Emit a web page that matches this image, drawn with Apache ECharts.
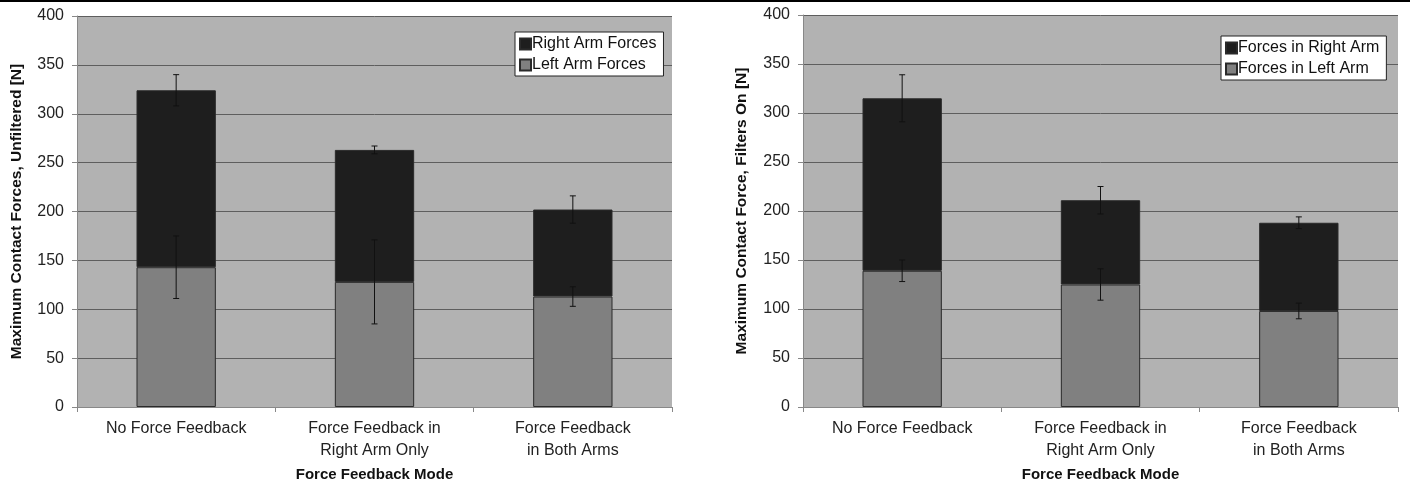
<!DOCTYPE html>
<html>
<head>
<meta charset="utf-8">
<script src="https://cdn.jsdelivr.net/npm/echarts@6/dist/echarts.min.js"></script>
<style>
  html, body { margin: 0; padding: 0; background: #ffffff; }
  #chart { width: 1414px; height: 484px; }
</style>
</head>
<body>
<div id="chart"></div>
<script>
// categories
const categories = ['No Force Feedback', 'Force Feedback in\nRight Arm Only', 'Force Feedback\nin Both Arms']

// left chart: unfiltered
const leftArmUnfiltered = [143, 128, 113]
const rightArmUnfiltered = [181, 135, 89]
const leftErrUnfiltered = [32, 43, 10]
const rightErrUnfiltered = [16, 4, 14]

// right chart: filters on
const leftArmFiltered = [139, 125, 98]
const rightArmFiltered = [176, 86, 90]
const leftErrFiltered = [11, 16, 8]
const rightErrFiltered = [24, 14, 6]

const FONT = 'Liberation Sans, Arial, sans-serif'
const DARK = '#1e1e1e'
const MID = '#808080'

const myChart = echarts.init(document.getElementById('chart'))

// 误差线
const errRender = (params, api) => {
  const x = api.value(0)
  const y = api.value(1)
  const e = api.value(2)
  const hi = api.coord([x, y + e])
  const lo = api.coord([x, y - e])
  const cap = 3
  const style = { stroke: '#111', lineWidth: 1 }
  return {
    type: 'group',
    children: [
      { type: 'line', shape: { x1: hi[0], y1: hi[1], x2: lo[0], y2: lo[1] }, style },
      { type: 'line', shape: { x1: hi[0] - cap, y1: hi[1], x2: hi[0] + cap, y2: hi[1] }, style },
      { type: 'line', shape: { x1: lo[0] - cap, y1: lo[1], x2: lo[0] + cap, y2: lo[1] }, style }
    ]
  }
}

const errData = (left, right, leftErr, rightErr) => {
  const out = []
  for (let i = 0; i < left.length; i++) {
    out.push([i, left[i], leftErr[i]])
    out.push([i, left[i] + right[i], rightErr[i]])
  }
  return out
}

const xAxisOf = (idx) => ({
  type: 'category',
  gridIndex: idx,
  data: categories,
  name: 'Force Feedback Mode',
  nameLocation: 'middle',
  nameGap: 59,
  nameTextStyle: { fontFamily: FONT, fontWeight: 'bold', fontSize: 15, color: '#111' },
  axisLine: { lineStyle: { color: '#888', width: 1 } },
  axisTick: { show: true, length: 5, lineStyle: { color: '#888' } },
  axisLabel: { fontFamily: FONT, fontSize: 16, color: '#222', margin: 11, lineHeight: 22 }
})

const yAxisOf = (idx, name, gap) => ({
  type: 'value',
  gridIndex: idx,
  min: 0,
  max: 400,
  interval: 50,
  name,
  nameLocation: 'middle',
  nameGap: gap,
  nameTextStyle: { fontFamily: FONT, fontWeight: 'bold', fontSize: 15.5, color: '#111' },
  axisLine: { show: true, lineStyle: { color: '#888', width: 1 } },
  axisTick: { show: true, length: 5, lineStyle: { color: '#888' } },
  axisLabel: { fontFamily: FONT, fontSize: 16, color: '#222', margin: 13 },
  splitLine: { show: true, lineStyle: { color: '#5e5e5e', width: 1 } }
})

const barOf = (name, data, idx, color) => ({
  name,
  type: 'bar',
  stack: 'total' + idx,
  xAxisIndex: idx,
  yAxisIndex: idx,
  data,
  barWidth: '40%',
  itemStyle: { color, borderColor: '#2a2a2a', borderWidth: 1 },
  z: 2
})

const legendOf = (left, top, names) => ({
  left,
  top,
  orient: 'vertical',
  data: names,
  backgroundColor: '#ffffff',
  borderColor: '#222',
  borderWidth: 1,
  padding: [4, 7, 3, 4],
  itemGap: 5,
  itemWidth: 11,
  itemHeight: 11,
  icon: 'rect',
  selectedMode: false,
  textStyle: { fontFamily: FONT, fontSize: 16, color: '#111', padding: [0, 0, 0, -4] }
})

const options = {
  animation: false,
  graphic: [
    { type: 'rect', left: 0, top: 0, shape: { width: 1410, height: 2 }, style: { fill: '#000' } }
  ],
  grid: [
    { left: 77, right: 742, top: 16, bottom: 77, show: true, backgroundColor: '#b2b2b2', borderWidth: 0, outerBoundsMode: 'none', containLabel: false },
    { left: 803, right: 16, top: 15, bottom: 77, show: true, backgroundColor: '#b2b2b2', borderWidth: 0, outerBoundsMode: 'none', containLabel: false }
  ],
  legend: [
    legendOf(515, 32, ['Right Arm Forces', 'Left Arm Forces']),
    legendOf(1221, 36, ['Forces in Right Arm', 'Forces in Left Arm'])
  ],
  xAxis: [xAxisOf(0), xAxisOf(1)],
  yAxis: [
    yAxisOf(0, 'Maximum Contact Forces, Unfiltered [N]', 52),
    yAxisOf(1, 'Maximum Contact Force, Filters On [N]', 53)
  ],
  series: [
    barOf('Left Arm Forces', leftArmUnfiltered, 0, MID),
    barOf('Right Arm Forces', rightArmUnfiltered, 0, DARK),
    barOf('Forces in Left Arm', leftArmFiltered, 1, MID),
    barOf('Forces in Right Arm', rightArmFiltered, 1, DARK),
    {
      type: 'custom',
      xAxisIndex: 0,
      yAxisIndex: 0,
      renderItem: errRender,
      data: errData(leftArmUnfiltered, rightArmUnfiltered, leftErrUnfiltered, rightErrUnfiltered),
      z: 5
    },
    {
      type: 'custom',
      xAxisIndex: 1,
      yAxisIndex: 1,
      renderItem: errRender,
      data: errData(leftArmFiltered, rightArmFiltered, leftErrFiltered, rightErrFiltered),
      z: 5
    }
  ]
}
myChart.setOption(options)
</script>
</body>
</html>
